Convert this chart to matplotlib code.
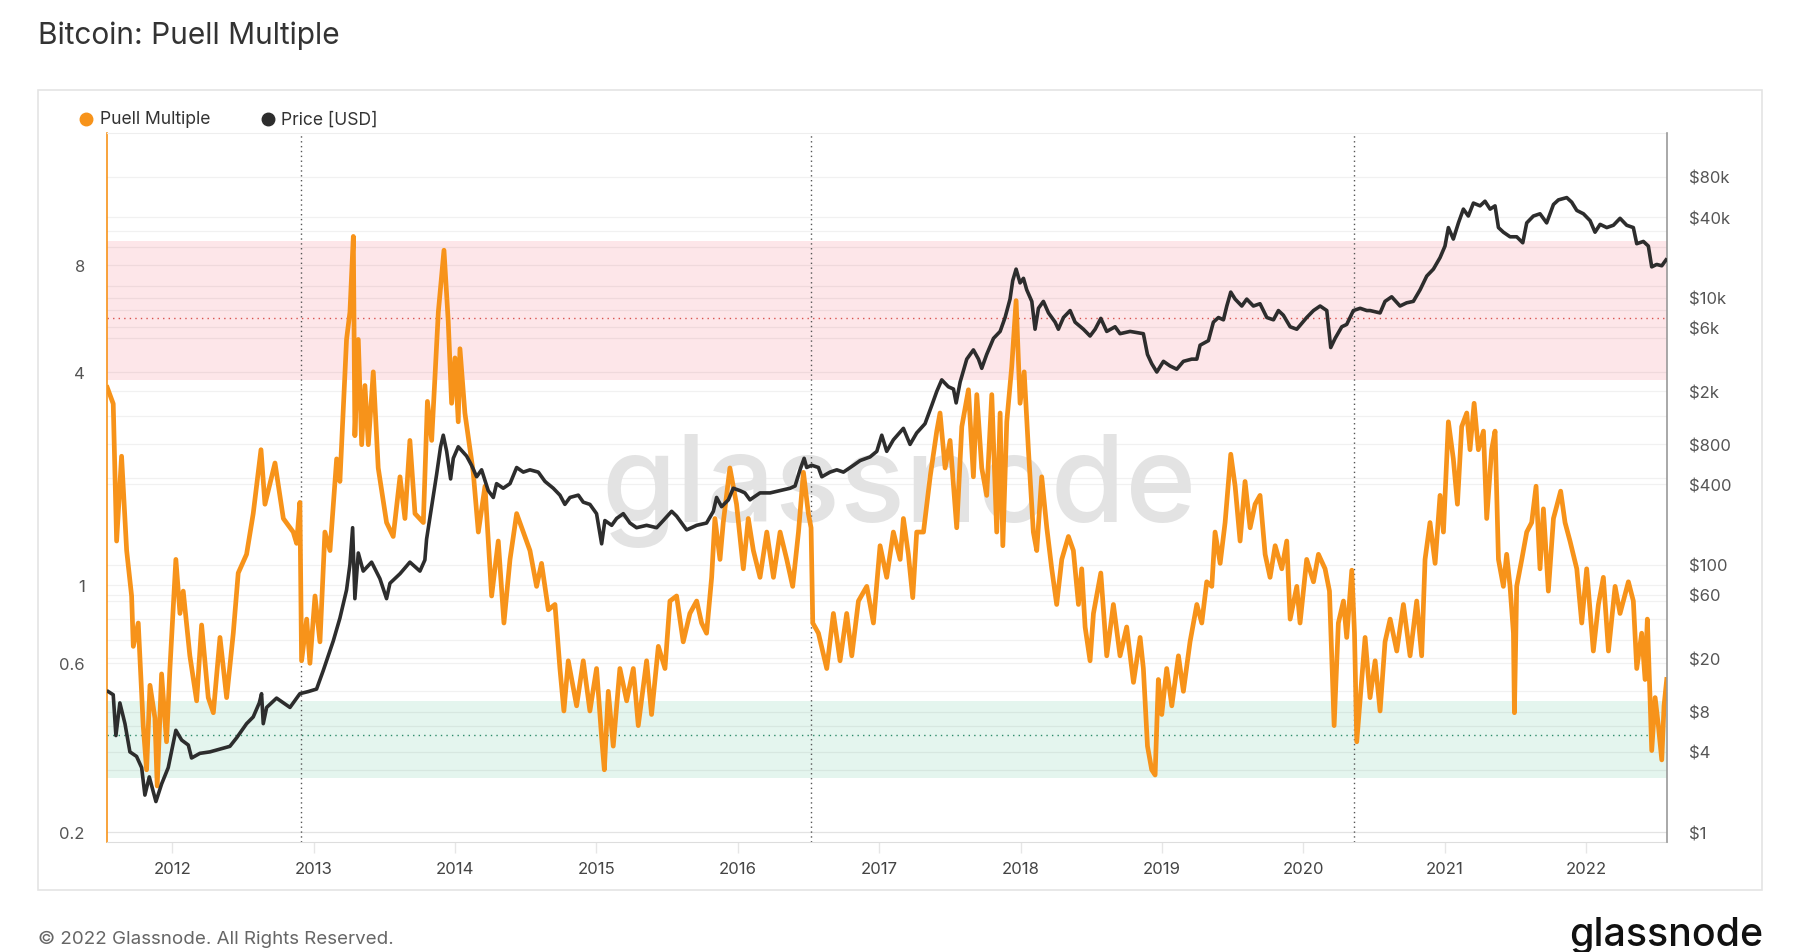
import matplotlib
matplotlib.use('Agg')
import matplotlib.pyplot as plt
from matplotlib.lines import Line2D
from matplotlib.patches import Rectangle
from matplotlib.ticker import FixedLocator, NullLocator
import numpy as np

plt.rcParams['font.family'] = ['Inter', 'DejaVu Sans']

# Puell Multiple (decimal year, value)
puell_t = [
    2011.541, 2011.583, 2011.607, 2011.642, 2011.678, 2011.713, 2011.725, 2011.760,
    2011.795, 2011.819, 2011.843, 2011.878, 2011.894, 2011.925, 2011.960, 2011.984,
    2012.026, 2012.055, 2012.078, 2012.125, 2012.173, 2012.208, 2012.255, 2012.291,
    2012.338, 2012.385, 2012.432, 2012.467, 2012.526, 2012.573, 2012.628, 2012.656,
    2012.727, 2012.786, 2012.856, 2012.880, 2012.903, 2012.915, 2012.951, 2012.974,
    2013.010, 2013.045, 2013.080, 2013.116, 2013.163, 2013.186, 2013.233, 2013.257,
    2013.281, 2013.292, 2013.316, 2013.340, 2013.363, 2013.387, 2013.422, 2013.457,
    2013.516, 2013.563, 2013.611, 2013.646, 2013.681, 2013.717, 2013.776, 2013.805,
    2013.835, 2013.882, 2013.922, 2013.952, 2013.976, 2014.000, 2014.023, 2014.035,
    2014.070, 2014.129, 2014.165, 2014.212, 2014.259, 2014.306, 2014.346, 2014.389,
    2014.436, 2014.483, 2014.530, 2014.577, 2014.612, 2014.660, 2014.707, 2014.742,
    2014.770, 2014.801, 2014.860, 2014.907, 2014.954, 2015.001, 2015.037, 2015.056,
    2015.084, 2015.119, 2015.166, 2015.214, 2015.261, 2015.296, 2015.355, 2015.390,
    2015.438, 2015.485, 2015.520, 2015.567, 2015.614, 2015.661, 2015.709, 2015.744,
    2015.779, 2015.815, 2015.838, 2015.874, 2015.897, 2015.944, 2015.991, 2016.039,
    2016.074, 2016.110, 2016.157, 2016.205, 2016.252, 2016.299, 2016.346, 2016.388,
    2016.429, 2016.464, 2016.499, 2016.518, 2016.530, 2016.570, 2016.629, 2016.676,
    2016.723, 2016.770, 2016.806, 2016.853, 2016.912, 2016.959, 2017.006, 2017.053,
    2017.100, 2017.148, 2017.171, 2017.206, 2017.237, 2017.265, 2017.313, 2017.360,
    2017.407, 2017.430, 2017.466, 2017.501, 2017.548, 2017.584, 2017.631, 2017.666,
    2017.690, 2017.725, 2017.760, 2017.796, 2017.831, 2017.855, 2017.874, 2017.902,
    2017.937, 2017.968, 2017.996, 2018.025, 2018.055, 2018.090, 2018.114, 2018.149,
    2018.185, 2018.220, 2018.255, 2018.291, 2018.338, 2018.373, 2018.409, 2018.432,
    2018.456, 2018.491, 2018.515, 2018.567, 2018.609, 2018.656, 2018.703, 2018.750,
    2018.798, 2018.845, 2018.868, 2018.897, 2018.927, 2018.951, 2018.974, 2018.998,
    2019.033, 2019.069, 2019.116, 2019.151, 2019.198, 2019.246, 2019.281, 2019.316,
    2019.352, 2019.375, 2019.411, 2019.446, 2019.486, 2019.517, 2019.552, 2019.587,
    2019.623, 2019.658, 2019.693, 2019.729, 2019.764, 2019.800, 2019.847, 2019.882,
    2019.906, 2019.953, 2019.976, 2020.023, 2020.071, 2020.106, 2020.153, 2020.184,
    2020.200, 2020.217, 2020.247, 2020.283, 2020.306, 2020.342, 2020.361, 2020.377,
    2020.412, 2020.436, 2020.471, 2020.507, 2020.542, 2020.577, 2020.613, 2020.660,
    2020.707, 2020.754, 2020.801, 2020.836, 2020.860, 2020.895, 2020.931, 2020.966,
    2020.990, 2021.025, 2021.060, 2021.089, 2021.119, 2021.155, 2021.178, 2021.207,
    2021.237, 2021.273, 2021.296, 2021.331, 2021.355, 2021.379, 2021.414, 2021.437,
    2021.461, 2021.485, 2021.492, 2021.508, 2021.544, 2021.579, 2021.614, 2021.645,
    2021.673, 2021.697, 2021.732, 2021.768, 2021.819, 2021.850, 2021.885, 2021.933,
    2021.968, 2022.003, 2022.050, 2022.086, 2022.121, 2022.157, 2022.204, 2022.239,
    2022.298, 2022.333, 2022.357, 2022.392, 2022.416, 2022.432, 2022.451, 2022.463,
    2022.487, 2022.510, 2022.534, 2022.550, 2022.569,
]
puell_v = [
    3.61, 3.25, 1.33, 2.31, 1.25, 0.93, 0.67, 0.78,
    0.40, 0.30, 0.52, 0.42, 0.27, 0.56, 0.36, 0.58,
    1.18, 0.83, 0.96, 0.63, 0.47, 0.77, 0.48, 0.435,
    0.71, 0.48, 0.73, 1.08, 1.22, 1.59, 2.41, 1.69,
    2.21, 1.54, 1.41, 1.31, 1.71, 0.61, 0.80, 0.60,
    0.93, 0.69, 1.41, 1.25, 2.27, 1.96, 4.94, 5.90,
    9.66, 2.64, 4.94, 2.49, 3.66, 2.49, 4.00, 2.14,
    1.50, 1.37, 2.02, 1.54, 2.56, 1.59, 1.50, 3.30,
    2.56, 5.90, 8.83, 5.57, 3.26, 4.38, 2.89, 4.65,
    3.06, 2.08, 1.41, 1.90, 0.93, 1.33, 0.78, 1.18,
    1.59, 1.41, 1.25, 0.99, 1.15, 0.85, 0.88, 0.58,
    0.44, 0.61, 0.455, 0.61, 0.44, 0.58, 0.37, 0.30,
    0.50, 0.35, 0.58, 0.47, 0.58, 0.40, 0.61, 0.43,
    0.67, 0.58, 0.90, 0.93, 0.69, 0.83, 0.90, 0.78,
    0.73, 1.05, 1.54, 1.18, 1.50, 2.14, 1.69, 1.11,
    1.54, 1.25, 1.05, 1.41, 1.05, 1.41, 1.18, 0.99,
    1.41, 2.08, 1.59, 1.45, 0.78, 0.73, 0.58, 0.83,
    0.61, 0.83, 0.63, 0.90, 0.99, 0.78, 1.29, 1.05,
    1.41, 1.18, 1.54, 1.22, 0.92, 1.41, 1.41, 2.02,
    2.72, 3.06, 2.14, 2.56, 1.45, 2.80, 3.56, 2.02,
    3.45, 2.14, 1.79, 3.45, 1.41, 3.06, 1.29, 2.89,
    4.13, 6.36, 3.26, 4.00, 2.41, 1.41, 1.25, 2.02,
    1.45, 1.11, 0.88, 1.18, 1.37, 1.25, 0.88, 1.11,
    0.76, 0.61, 0.83, 1.08, 0.63, 0.88, 0.63, 0.76,
    0.53, 0.71, 0.58, 0.35, 0.30, 0.29, 0.54, 0.43,
    0.58, 0.455, 0.63, 0.50, 0.69, 0.88, 0.78, 1.02,
    0.99, 1.41, 1.15, 1.50, 2.34, 1.90, 1.33, 1.96,
    1.45, 1.69, 1.79, 1.22, 1.05, 1.29, 1.11, 1.33,
    0.80, 0.99, 0.78, 1.18, 1.02, 1.22, 1.11, 0.96,
    0.63, 0.40, 0.78, 0.90, 0.71, 1.10, 0.73, 0.36,
    0.54, 0.71, 0.48, 0.61, 0.44, 0.69, 0.80, 0.65,
    0.88, 0.63, 0.90, 0.63, 1.18, 1.50, 1.15, 1.79,
    1.41, 2.89, 2.27, 1.69, 2.80, 3.06, 2.41, 3.26,
    2.41, 2.72, 1.54, 2.41, 2.72, 1.18, 0.99, 1.22,
    0.99, 0.73, 0.435, 0.99, 1.18, 1.41, 1.50, 1.90,
    1.11, 1.64, 0.96, 1.54, 1.84, 1.50, 1.33, 1.11,
    0.78, 1.11, 0.65, 0.88, 1.05, 0.65, 0.99, 0.83,
    1.02, 0.90, 0.58, 0.73, 0.54, 0.80, 0.48, 0.34,
    0.48, 0.40, 0.32, 0.455, 0.54,
]

# BTC price in USD (decimal year, value)
price_t = [
    2011.548, 2011.583, 2011.602, 2011.630, 2011.666, 2011.701, 2011.748, 2011.784,
    2011.807, 2011.838, 2011.885, 2011.925, 2011.972, 2012.026, 2012.067, 2012.114,
    2012.137, 2012.196, 2012.267, 2012.338, 2012.408, 2012.456, 2012.526, 2012.573,
    2012.616, 2012.632, 2012.644, 2012.668, 2012.738, 2012.833, 2012.903, 2012.962,
    2013.021, 2013.068, 2013.139, 2013.186, 2013.233, 2013.257, 2013.276, 2013.292,
    2013.316, 2013.351, 2013.410, 2013.469, 2013.516, 2013.540, 2013.611, 2013.681,
    2013.752, 2013.787, 2013.799, 2013.835, 2013.870, 2013.898, 2013.917, 2013.941,
    2013.969, 2013.988, 2014.023, 2014.082, 2014.117, 2014.153, 2014.188, 2014.235,
    2014.271, 2014.294, 2014.341, 2014.389, 2014.436, 2014.483, 2014.530, 2014.589,
    2014.636, 2014.695, 2014.742, 2014.777, 2014.813, 2014.872, 2014.907, 2014.954,
    2015.001, 2015.037, 2015.060, 2015.108, 2015.143, 2015.190, 2015.237, 2015.284,
    2015.355, 2015.426, 2015.473, 2015.532, 2015.567, 2015.638, 2015.709, 2015.779,
    2015.827, 2015.850, 2015.885, 2015.933, 2015.968, 2016.015, 2016.050, 2016.086,
    2016.110, 2016.157, 2016.228, 2016.299, 2016.370, 2016.405, 2016.440, 2016.469,
    2016.487, 2016.523, 2016.570, 2016.594, 2016.652, 2016.700, 2016.747, 2016.818,
    2016.865, 2016.935, 2016.983, 2017.018, 2017.053, 2017.100, 2017.171, 2017.218,
    2017.265, 2017.324, 2017.372, 2017.407, 2017.442, 2017.489, 2017.525, 2017.544,
    2017.572, 2017.619, 2017.666, 2017.702, 2017.725, 2017.760, 2017.808, 2017.855,
    2017.890, 2017.925, 2017.944, 2017.968, 2017.996, 2018.020, 2018.043, 2018.079,
    2018.102, 2018.126, 2018.161, 2018.197, 2018.244, 2018.267, 2018.303, 2018.350,
    2018.385, 2018.444, 2018.491, 2018.527, 2018.567, 2018.609, 2018.668, 2018.703,
    2018.774, 2018.868, 2018.897, 2018.927, 2018.963, 2019.010, 2019.057, 2019.104,
    2019.151, 2019.210, 2019.246, 2019.269, 2019.328, 2019.363, 2019.399, 2019.434,
    2019.458, 2019.486, 2019.517, 2019.564, 2019.599, 2019.646, 2019.693, 2019.741,
    2019.788, 2019.823, 2019.858, 2019.906, 2019.953, 2020.023, 2020.071, 2020.118,
    2020.165, 2020.193, 2020.224, 2020.271, 2020.306, 2020.353, 2020.401, 2020.448,
    2020.471, 2020.542, 2020.577, 2020.624, 2020.683, 2020.730, 2020.777, 2020.825,
    2020.872, 2020.919, 2020.966, 2021.001, 2021.025, 2021.060, 2021.096, 2021.131,
    2021.166, 2021.202, 2021.249, 2021.284, 2021.320, 2021.355, 2021.379, 2021.414,
    2021.461, 2021.508, 2021.551, 2021.579, 2021.626, 2021.673, 2021.720, 2021.768,
    2021.803, 2021.862, 2021.897, 2021.933, 2021.980, 2022.027, 2022.062, 2022.098,
    2022.145, 2022.192, 2022.239, 2022.286, 2022.333, 2022.357, 2022.404, 2022.439,
    2022.463, 2022.498, 2022.534, 2022.564,
]
price_v = [
    11.3, 10.7, 5.3, 9.3, 6.5, 4.0, 3.7, 3.05,
    1.9, 2.6, 1.7, 2.3, 3.05, 5.8, 4.9, 4.5,
    3.6, 3.9, 4.0, 4.2, 4.4, 5.1, 6.5, 7.3,
    9.3, 10.9, 6.5, 8.6, 10.1, 8.6, 10.9, 11.3,
    11.8, 16.2, 27, 40, 65, 101, 190, 56,
    123, 90, 105, 79, 56, 73, 86, 105,
    90, 109, 156, 273, 476, 766, 935, 708,
    440, 628, 766, 653, 557, 457, 515, 360,
    320, 406, 375, 406, 536, 495, 515, 495,
    422, 375, 333, 284, 320, 333, 295, 284,
    242, 144, 215, 198, 223, 242, 206, 190,
    198, 190, 215, 252, 232, 183, 198, 206,
    252, 320, 273, 307, 375, 360, 346, 307,
    320, 346, 346, 360, 375, 390, 515, 628,
    536, 557, 536, 457, 495, 515, 495, 557,
    604, 643, 708, 935, 708, 863, 1052, 798,
    972, 1140, 1567, 1988, 2425, 2153, 2070, 1630,
    2330, 3465, 4063, 3465, 2958, 3757, 4955, 5585,
    7096, 9742, 13393, 16330, 12880, 13930, 11440, 9370,
    5800, 8320, 9370, 7680, 6550, 5800, 7096, 8000,
    6550, 5800, 5160, 5800, 6990, 5585, 6050, 5370,
    5585, 5370, 3757, 3205, 2775, 3336, 3080, 2913,
    3336, 3465, 3465, 4403, 4765, 6550, 7096, 6820,
    8650, 10990, 9742, 8650, 9742, 8650, 9000, 7096,
    6820, 8000, 7380, 6050, 5800, 7096, 8000, 8650,
    8000, 4230, 4955, 6050, 6300, 8000, 8320, 8000,
    8000, 7680, 9370, 10140, 8650, 9140, 9370, 11440,
    14490, 16330, 19910, 24300, 33400, 27400, 36200, 45900,
    40740, 50930, 48560, 52600, 45900, 48560, 33400, 30840,
    28500, 28500, 25700, 36200, 40740, 42360, 36200, 49700,
    53800, 55980, 51750, 44870, 42360, 37650, 30840, 35300,
    33400, 34760, 39170, 34760, 33400, 25300, 26300, 24300,
    16980, 17700, 17300, 19140,
]

halvings = [2012.908, 2016.521, 2020.359]
red_band = (3.8, 9.4)
red_line = 5.69
green_band = (0.285, 0.47)
green_line = 0.377

puell_ticks = [0.2, 0.6, 1, 4, 8]
puell_labels = ['0.2', '0.6', '1', '4', '8']
price_ticks = [1, 4, 8, 20, 60, 100, 400, 800, 2e3, 6e3, 1e4, 4e4, 8e4]
price_labels = ['$1', '$4', '$8', '$20', '$60', '$100', '$400', '$800',
                '$2k', '$6k', '$10k', '$40k', '$80k']
puell_grid = [0.2, 0.3, 0.4, 0.5, 0.6, 0.7, 0.8, 0.9, 1, 2, 3, 4, 5, 6, 7, 8, 9, 10]
years = list(range(2012, 2023))

W, H = 1800, 953
ORANGE = '#f7931a'
DARK = '#2d2d2d'


def fx(px):
    return px / W


def fy(py):
    return 1 - py / H


fig = plt.figure(figsize=(W / 100, H / 100), dpi=100)
fig.patch.set_facecolor('white')

fig.add_artist(Rectangle((fx(38), fy(891)), fx(1762) - fx(38), fy(91) - fy(891),
                         transform=fig.transFigure, fill=False,
                         ec='#e4e4e4', lw=1.2))

ax = fig.add_axes([fx(107), fy(842.6), fx(1667) - fx(107), fy(134.3) - fy(842.6)])
ax.set_yscale('log')
ax.set_xlim(2011.539, 2022.571)
puell_lim = (0.188, 18.9)
price_lim = (0.853, 1.694e5)
ax.set_ylim(*puell_lim)

ax.axhspan(*red_band, color='#fde6e9', lw=0, zorder=0)
ax.axhspan(*green_band, color='#e4f5ee', lw=0, zorder=0)
for v in puell_grid:
    ax.axhline(v, color='#000000', alpha=0.055, lw=0.9, zorder=0.5)
# price gridlines, mapped onto the left axis
lp0, lp1 = np.log10(puell_lim)
lq0, lq1 = np.log10(price_lim)
for v in price_ticks:
    frac = (np.log10(v) - lq0) / (lq1 - lq0)
    ax.axhline(10 ** (lp0 + frac * (lp1 - lp0)), color='#000000', alpha=0.055,
               lw=0.9, zorder=0.5)

ax.axhline(red_line, color='#d9534f', ls=(0, (1, 3)), lw=1.0, zorder=1)
ax.axhline(green_line, color='#2e8b6a', ls=(0, (1, 3)), lw=1.0, zorder=1)
for h in halvings:
    ax.axvline(h, color='#555555', ls=(0, (1, 2.5)), lw=1.0, zorder=1)

ax.text(0.508, 0.453, 'glassnode', transform=ax.transAxes, ha='center',
        va='baseline', fontsize=87, fontweight='medium', color='#e3e3e3',
        family=['Inter', 'DejaVu Sans'], zorder=0.8)

ax.plot(puell_t, puell_v, color=ORANGE, lw=3.4, zorder=3)

ax.yaxis.set_major_locator(FixedLocator(puell_ticks))
ax.yaxis.set_minor_locator(NullLocator())
ax.set_yticklabels(puell_labels)
ax.set_xticks(years)
ax.set_xticklabels([str(y) for y in years])
ax.tick_params(axis='y', length=0, pad=16, labelsize=12, labelcolor='#555555')
ax.tick_params(axis='x', length=8, width=1, color='#e6e6e6', pad=6,
               labelsize=12, labelcolor='#444444')

ax.spines['left'].set_color(ORANGE)
ax.spines['left'].set_linewidth(1.2)
ax.spines['top'].set_color('#eeeeee')
ax.spines['bottom'].set_color('#dddddd')
ax.spines['right'].set_visible(False)

ax2 = ax.twinx()
ax2.set_yscale('log')
ax2.set_ylim(*price_lim)
ax2.plot(price_t, price_v, color=DARK, lw=2.6, zorder=4)
ax2.yaxis.set_major_locator(FixedLocator(price_ticks))
ax2.yaxis.set_minor_locator(NullLocator())
ax2.set_yticklabels(price_labels)
ax2.tick_params(axis='y', length=0, pad=16, labelsize=12, labelcolor='#555555')
for s in ['left', 'top', 'bottom']:
    ax2.spines[s].set_visible(False)
ax2.spines['right'].set_color('#999999')
ax2.spines['right'].set_linewidth(1.2)

# title, legend and footer
fig.text(fx(38), fy(36), 'Bitcoin: Puell Multiple', fontsize=21.5, color='#333333',
         va='center')
fig.add_artist(Line2D([fx(86)], [fy(120)], marker='o', ms=9, ls='', color=ORANGE,
                      transform=fig.transFigure))
fig.text(fx(100), fy(120), 'Puell Multiple', fontsize=12.6, color='#333333', va='center')
fig.add_artist(Line2D([fx(268)], [fy(120)], marker='o', ms=9, ls='', color=DARK,
                      transform=fig.transFigure))
fig.text(fx(281), fy(120), 'Price [USD]', fontsize=12.6, color='#333333', va='center')

fig.text(fx(38), fy(939), '\u00a9 2022 Glassnode. All Rights Reserved.', fontsize=13.5,
         color='#666666', va='center')
fig.text(fx(1763), fy(936), 'glassnode', ha='right', va='center', fontsize=28.3,
         fontweight='medium', color='#111111', family=['Inter', 'DejaVu Sans'])

fig.savefig('out.png', dpi=100)
